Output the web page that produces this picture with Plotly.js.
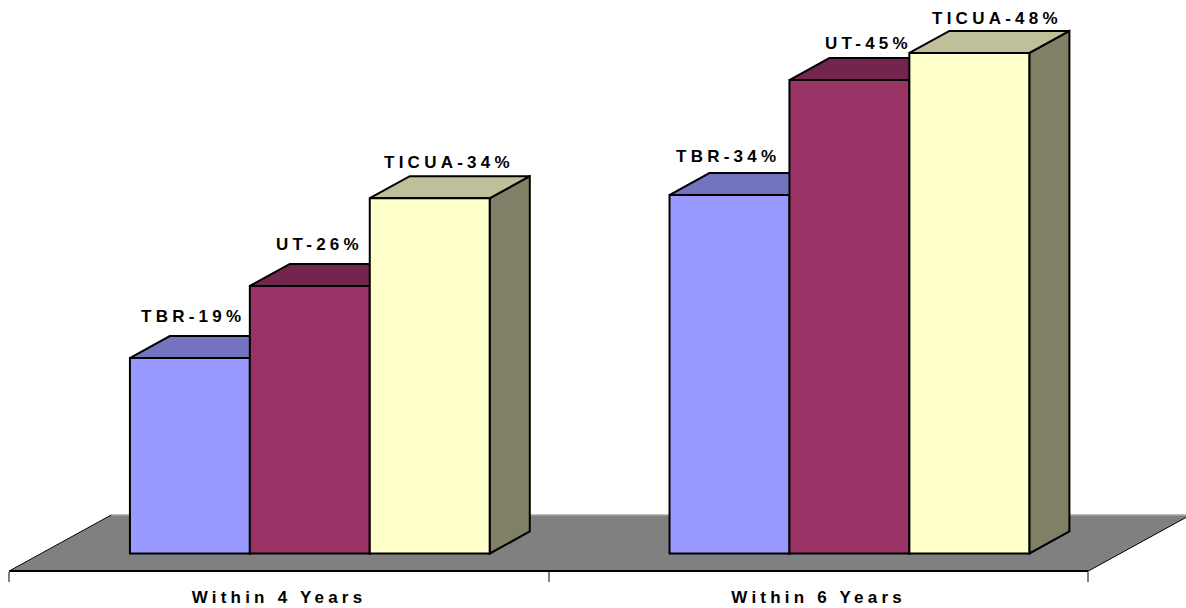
<!DOCTYPE html>
<html>
<head>
<meta charset="utf-8">
<script src="https://cdn.plot.ly/plotly-3.0.1.min.js"></script>
<style>
html,body{margin:0;padding:0;background:#fff}
#chart{width:1186px;height:608px}
.annotation-text{letter-spacing:4.25px}
.xtick text{letter-spacing:4.2px}
</style>
</head>
<body>
<div id="chart"></div>
<script>
var categories = ['Within 4 Years', 'Within 6 Years'];
var seriesNames = ['TBR', 'UT', 'TICUA'];
var tbrValues = [18.7, 34.3];
var utValues = [25.6, 45.3];
var ticuaValues = [34.0, 47.9];
var tbrLabels = [19, 34];
var utLabels = [26, 45];
var ticuaLabels = [34, 48];
var frontColors = ['#9999FF', '#993366', '#FFFFCC'];
var topColors = ['#7373BF', '#73264D', '#BFBF99'];
var sideColors = ['#73738F', '#4D1A33', '#808066'];

var W = 1186, H = 608, pxPerCat = 539.6, pxPerVal = 10.45;
var xAtZero = 279, yAtZero = 553.5;
var depthX = 40 / pxPerCat, depthY = 22 / pxPerVal;
var floorShift = 30.8 / pxPerCat;
var floorFront = -17.5 / pxPerVal, floorBack = 38.5 / pxPerVal;
var floorDepthX = 102 / pxPerCat;
var barW = 120 / pxPerCat;
var xRange = [(0 - xAtZero) / pxPerCat, (W - xAtZero) / pxPerCat];
var yRange = [(yAtZero - H) / pxPerVal, yAtZero / pxPerVal];

var values = [tbrValues, utValues, ticuaValues];
var labelNums = [tbrLabels, utLabels, ticuaLabels];
var labelDx = [[3, 10, 19], [-1, 19, 28]];
var labelDy = [[30, 30, 24], [27, 25, 23]];

var xCenters = categories.map(function (c, i) { return i + floorShift; });

var traces = seriesNames.map(function (n, k) {
  return {
    type: 'bar', name: n, x: xCenters, y: values[k],
    marker: {color: frontColors[k], line: {color: '#000', width: 2}},
    hoverinfo: 'name+y', showlegend: false
  };
});

function poly(pts, fill, line) {
  var d = pts.map(function (p, i) { return (i ? 'L' : 'M') + p[0] + ',' + p[1]; }).join(' ') + ' Z';
  return {type: 'path', xref: 'x', yref: 'y', layer: 'below', path: d, fillcolor: fill,
          line: line ? {color: '#000', width: 2} : {width: 0}};
}
function seg(x0, y0, x1, y1, color, w) {
  return {type: 'line', xref: 'x', yref: 'y', layer: 'below', x0: x0, y0: y0, x1: x1, y1: y1,
          line: {color: color, width: w}};
}

var fl = -0.5, fr = 1.5;
var shapes = [
  poly([[fl, floorFront], [fr, floorFront], [fr + floorDepthX, floorBack], [fl + floorDepthX, floorBack]], '#808080', false),
  seg(fl + floorDepthX, floorBack, fr + floorDepthX, floorBack, '#A6A6A6', 1.5),
  seg(fl, floorFront, fl + floorDepthX, floorBack, '#000', 1),
  seg(fr, floorFront, fr + floorDepthX, floorBack, '#000', 1),
  seg(fl, floorFront, fr, floorFront, '#000', 2)
];
var annotations = [];

categories.forEach(function (c, i) {
  seriesNames.forEach(function (n, k) {
    var left = xCenters[i] + (k - 1.5) * barW, right = left + barW, v = values[k][i];
    shapes.push(poly([[right, 0], [right + depthX, depthY], [right + depthX, v + depthY], [right, v]], sideColors[k], true));
    shapes.push(poly([[left, v], [left + depthX, v + depthY], [right + depthX, v + depthY], [right, v]], topColors[k], true));
    annotations.push({
      x: (left + right) / 2, y: v, xref: 'x', yref: 'y', showarrow: false,
      text: n + '-' + labelNums[k][i] + '%', xanchor: 'center', yanchor: 'bottom',
      xshift: labelDx[i][k], yshift: labelDy[i][k],
      font: {family: 'Liberation Sans, Arial, sans-serif', size: 17, color: '#000', weight: 700}
    });
  });
});

var layout = {
  width: W, height: H,
  margin: {l: 0, r: 0, t: 0, b: 0},
  paper_bgcolor: '#fff', plot_bgcolor: '#fff',
  barmode: 'group', bargap: 1 / 3, bargroupgap: 0,
  showlegend: false,
  xaxis: {
    range: xRange, anchor: 'free', position: 37 / H, showgrid: false, zeroline: false, showline: false,
    tickmode: 'array', tickvals: categories.map(function (c, i) { return i; }), ticktext: categories,
    ticks: '', ticklabelstandoff: 14,
    tickfont: {family: 'Liberation Sans, Arial, sans-serif', size: 17, color: '#000', weight: 700},
    minor: {tickmode: 'array', tickvals: [fl, fl + 1, fr], ticks: 'outside', ticklen: 10, tickwidth: 2, tickcolor: '#808080', showgrid: false}
  },
  yaxis: {range: yRange, visible: false, fixedrange: true},
  shapes: shapes,
  annotations: annotations
};
Plotly.newPlot('chart', traces, layout, {displayModeBar: false, responsive: false});
</script>
</body>
</html>
